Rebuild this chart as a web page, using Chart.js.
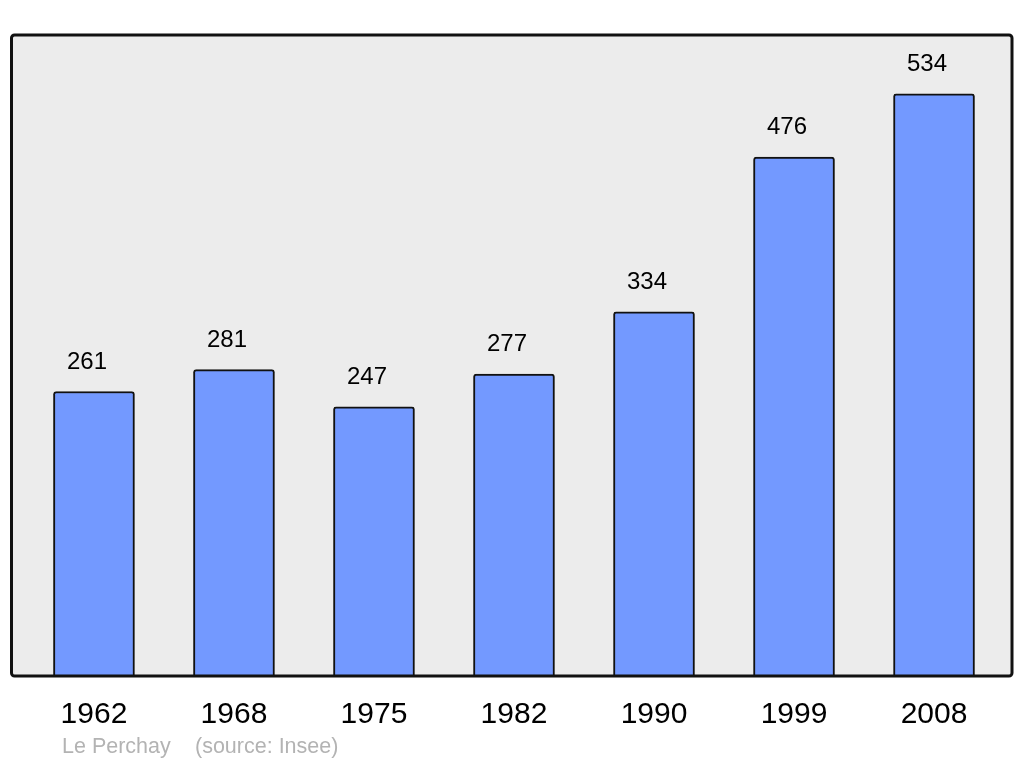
<!DOCTYPE html>
<html>
<head>
<meta charset="utf-8">
<script src="https://cdn.jsdelivr.net/npm/chart.js@4.4.1/dist/chart.umd.min.js"></script>
<style>
  html, body { margin: 0; padding: 0; background: #ffffff; }
  #wrap { position: relative; width: 1024px; height: 765px; }
  canvas { display: block; }
  .src { position: absolute; top: 734px; font-family: "Liberation Sans", Arial, sans-serif; font-size: 21.5px; color: #b3b3b3; white-space: nowrap; line-height: 24px; }
</style>
</head>
<body>
<div id="wrap">
  <canvas id="c" width="1024" height="765"></canvas>
  <span class="src" style="left:62px">Le Perchay</span>
  <span class="src" style="left:195px">(source: Insee)</span>
</div>
<script>
const years = ["1962", "1968", "1975", "1982", "1990", "1999", "2008"];
const population = [261, 281, 247, 277, 334, 476, 534];
const yMax = 588;

const boxPlugin = {
  id: 'box',
  beforeDatasetsDraw(chart) {
    const a = chart.chartArea, ctx = chart.ctx;
    ctx.save();
    ctx.fillStyle = '#ececec';
    ctx.beginPath();
    ctx.roundRect(a.left, a.top, a.right - a.left, a.bottom - a.top, 3);
    ctx.fill();
    ctx.restore();
  },
  afterDatasetsDraw(chart) {
    const a = chart.chartArea, ctx = chart.ctx;
    ctx.save();
    ctx.strokeStyle = '#111111';
    ctx.lineWidth = 3;
    ctx.beginPath();
    ctx.roundRect(a.left, a.top, a.right - a.left, a.bottom - a.top, 3);
    ctx.stroke();
    ctx.fillStyle = '#000000';
    ctx.font = '24px "Liberation Sans", Arial, sans-serif';
    ctx.textAlign = 'center';
    ctx.textBaseline = 'middle';
    const meta = chart.getDatasetMeta(0);
    meta.data.forEach((bar, i) => {
      ctx.fillText(String(population[i]), bar.x - 7, bar.y - 29.5);
    });
    ctx.restore();
  }
};

new Chart(document.getElementById('c'), {
  type: 'bar',
  data: {
    datasets: [{
      data: population.map((v, i) => ({ x: i, y: v })),
      backgroundColor: '#7399ff',
      borderColor: '#111111',
      borderWidth: 2,
      borderRadius: 3,
      borderSkipped: 'bottom',
      barThickness: 81
    }]
  },
  options: {
    responsive: false,
    animation: false,
    events: [],
    layout: { padding: { left: 11.5, right: 12, top: 35, bottom: 11 } },
    plugins: { legend: { display: false }, tooltip: { enabled: false } },
    scales: {
      x: {
        type: 'linear',
        offset: false,
        min: -0.589,
        max: 6.557,
        grid: { display: false, drawTicks: false, offset: false },
        border: { display: false },
        afterBuildTicks(axis) { axis.ticks = years.map((_, i) => ({ value: i })); },
        ticks: {
          autoSkip: false,
          maxRotation: 0,
          padding: 21,
          color: '#000000',
          font: { family: '"Liberation Sans", Arial, sans-serif', size: 30 },
          callback: (v) => years[v]
        }
      },
      y: {
        display: false,
        min: 0,
        max: yMax
      }
    }
  },
  plugins: [boxPlugin]
});
</script>
</body>
</html>
